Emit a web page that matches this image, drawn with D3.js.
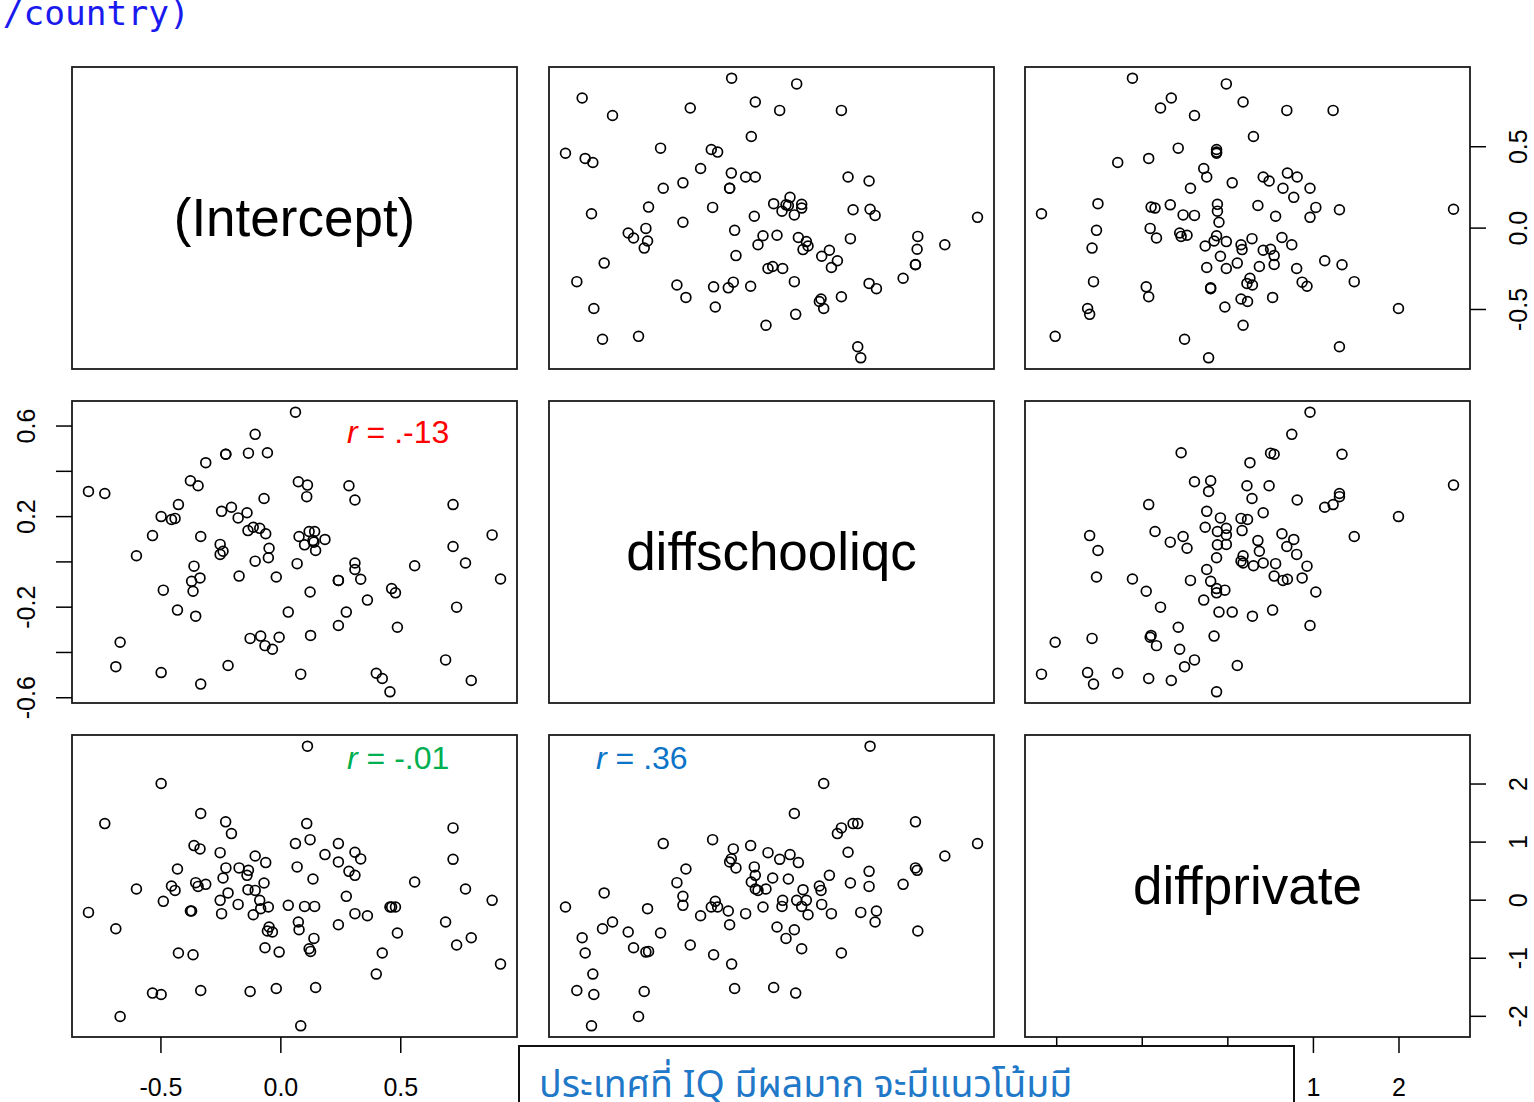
<!DOCTYPE html>
<html>
<head>
<meta charset="utf-8">
<script src="https://cdn.jsdelivr.net/npm/d3@7"></script>
<style>
  body { margin: 0; background: #fff; }
  svg { display: block; }
</style>
</head>
<body>
<div id="chart"></div>
<script>
// variables of the pairs plot
const varNames = ["(Intercept)", "diffschooliqc", "diffprivate"];

const intercept = [
  -0.800, -0.732, -0.686, -0.668, -0.600, -0.533, -0.497, -0.497, -0.488, -0.454,
  -0.439, -0.429, -0.425, -0.375, -0.370, -0.364, -0.360, -0.353, -0.343, -0.335,
  -0.332, -0.332, -0.311, -0.251, -0.251, -0.245, -0.239, -0.228, -0.227, -0.218,
  -0.204, -0.176, -0.172, -0.139, -0.135, -0.133, -0.126, -0.113, -0.105, -0.105,
  -0.086, -0.082, -0.068, -0.064, -0.061, -0.054, -0.050, -0.047, -0.033, -0.017,
  -0.005, 0.033, 0.063, 0.070, 0.075, 0.078, 0.085, 0.101, 0.110, 0.113,
  0.120, 0.124, 0.126, 0.136, 0.140, 0.143, 0.147, 0.186, 0.242, 0.242,
  0.242, 0.275, 0.286, 0.311, 0.311, 0.311, 0.335, 0.363, 0.400, 0.425,
  0.457, 0.464, 0.480, 0.488, 0.560, 0.689, 0.720, 0.720, 0.735, 0.772,
  0.796, 0.883, 0.918
];

const diffschooliqc = [
  0.309, 0.300, -0.465, -0.357, 0.025, 0.114, 0.198, -0.491, -0.127, 0.185,
  0.190, -0.215, 0.251, 0.356, -0.088, -0.132, -0.021, -0.242, 0.334, -0.073,
  0.110, -0.542, 0.436, 0.075, 0.031, 0.221, 0.045, 0.473, 0.473, -0.460,
  0.239, 0.192, -0.065, 0.215, 0.136, 0.478, -0.340, 0.151, 0.561, 0.001,
  0.146, -0.330, 0.278, -0.372, 0.122, 0.480, 0.016, 0.058, -0.388, -0.069,
  -0.335, -0.224, 0.659, -0.010, 0.352, 0.110, -0.498, 0.073, 0.286, 0.337,
  0.132, -0.135, -0.327, 0.092, 0.085, 0.132, 0.048, 0.097, -0.084, -0.084,
  -0.283, -0.224, 0.334, 0.271, -0.007, -0.036, -0.079, -0.171, -0.494, -0.517,
  -0.576, -0.120, -0.139, -0.291, -0.019, -0.435, 0.251, 0.066, -0.202, -0.007,
  -0.526, 0.117, -0.078
];

const diffprivate = [
  -0.219, 1.310, -0.500, -2.012, 0.184, -1.609, 2.000, -1.633, -0.029, 0.236,
  0.160, 0.529, -0.919, -0.195, -0.195, -0.948, 0.931, 0.293, 0.229, 0.874,
  1.483, -1.564, 0.264, -0.012, 0.810, -0.241, 0.374, 1.340, 0.547, 0.116,
  1.138, -0.081, 0.547, 0.419, 0.172, 0.505, -1.581, -0.259, 0.753, 0.160,
  -0.012, -0.155, 0.288, -0.828, 0.638, -0.540, -0.126, -0.471, -0.557, -1.529,
  -0.902, -0.098, 0.966, 0.564, -0.384, -0.517, -2.172, -0.116, 1.310, 2.643,
  -0.845, 1.034, -0.891, 0.357, -0.667, -0.116, -1.512, 0.776, -0.431, 0.650,
  0.966, 0.057, 0.488, 0.816, 0.419, -0.241, 0.702, -0.276, -1.281, -0.919,
  -0.126, -0.126, -0.126, -0.574, 0.305, -0.384, 1.236, 0.695, -0.781, 0.184,
  -0.655, -0.012, -1.109
];

// axis ticks
const interceptTicks = [-0.5, 0, 0.5];
const iqcTicks = [-0.6, -0.4, -0.2, 0, 0.2, 0.4, 0.6];
const iqcTopLabels = ["-0.6", "", "-0.2", "0.0", "0.2", "0.4", "0.6"];
const iqcLeftLabels = ["-0.6", "", "-0.2", "", "0.2", "", "0.6"];
const privateTicks = [-2, -1, 0, 1, 2];
// bottom labels -2, -1, 0 sit under the note box
const privateBottomLabels = ["", "", "", "1", "2"];

// correlation notes
const notes = [
  {row: 1, col: 0, label: " = .-13", color: "#ff0000"},
  {row: 2, col: 0, label: " = -.01", color: "#00b050"},
  {row: 2, col: 1, label: " = .36", color: "#0a74c8"}
];

const width = 1534, height = 1102;
const colX = [72, 549, 1025], rowY = [67, 401, 735];
const pw = 445, ph = 302;
const font = "'Liberation Sans', Arial, sans-serif";

const svg = d3.select("#chart").append("svg")
  .attr("width", width).attr("height", height);

const data = [intercept, diffschooliqc, diffprivate];

// R style range: data extent padded 4% each side
function padded(v) {
  const [a, b] = d3.extent(v);
  const p = (b - a) * 0.04;
  return [a - p, b + p];
}

const xScales = data.map((v, k) => d3.scaleLinear().domain(padded(v)).range([colX[k], colX[k] + pw]));
const yScales = data.map((v, k) => d3.scaleLinear().domain(padded(v)).range([rowY[k] + ph, rowY[k]]));

for (let i = 0; i < 3; i++) {
  for (let j = 0; j < 3; j++) {
    const g = svg.append("g");
    if (i === j) {
      g.append("text")
        .attr("x", colX[j] + pw / 2)
        .attr("y", rowY[i] + ph / 2 + 18)
        .attr("text-anchor", "middle")
        .attr("font-family", font)
        .attr("font-size", 53)
        .text(varNames[i]);
    } else {
      g.selectAll("circle")
        .data(d3.range(intercept.length))
        .enter()
        .append("circle")
        .attr("cx", d => xScales[j](data[j][d]))
        .attr("cy", d => yScales[i](data[i][d]))
        .attr("r", 4.9)
        .attr("fill", "none")
        .attr("stroke", "#000")
        .attr("stroke-width", 1.7);
    }
    g.append("rect")
      .attr("x", colX[j]).attr("y", rowY[i])
      .attr("width", pw).attr("height", ph)
      .attr("fill", "none")
      .attr("stroke", "#1a1a1a")
      .attr("stroke-width", 1.8);
  }
}

function styleAxis(sel) {
  sel.attr("font-family", font).attr("font-size", 25);
  sel.select(".domain").remove();
  sel.selectAll(".tick line").attr("stroke-width", 1.5);
}

// top axis over column 2, first label is cut at the left
svg.append("clipPath").attr("id", "topclip")
  .append("rect").attr("x", 550).attr("y", 0).attr("width", 984).attr("height", 67);

svg.append("g")
  .attr("transform", `translate(0,${rowY[0]})`)
  .call(d3.axisTop(xScales[1]).tickValues(iqcTicks)
    .tickFormat((d, i) => iqcTopLabels[i]).tickSize(16).tickPadding(22))
  .call(styleAxis)
  .attr("clip-path", "url(#topclip)");

// left axis on row 2
svg.append("g")
  .attr("transform", `translate(${colX[0]},0)`)
  .call(d3.axisLeft(yScales[1]).tickValues(iqcTicks)
    .tickFormat((d, i) => iqcLeftLabels[i]).tickSize(16))
  .call(styleAxis)
  .call(g => g.selectAll(".tick text")
    .attr("x", 0).attr("dy", null).attr("y", -37)
    .attr("text-anchor", "middle")
    .attr("transform", "rotate(-90)"));

// right axes on rows 1 and 3
[[0, interceptTicks, d => d.toFixed(1)], [2, privateTicks, d => String(d)]].forEach(([k, ticks, fmt]) => {
  svg.append("g")
    .attr("transform", `translate(${colX[2] + pw},0)`)
    .call(d3.axisRight(yScales[k]).tickValues(ticks).tickFormat(fmt).tickSize(16))
    .call(styleAxis)
    .call(g => g.selectAll(".tick text")
      .attr("x", 0).attr("dy", null).attr("y", 57)
      .attr("text-anchor", "middle")
      .attr("transform", "rotate(-90)"));
});

// bottom axes on columns 1 and 3
[[0, interceptTicks, d => d.toFixed(1)], [2, privateTicks, (d, i) => privateBottomLabels[i]]].forEach(([k, ticks, fmt]) => {
  svg.append("g")
    .attr("transform", `translate(0,${rowY[2] + ph})`)
    .call(d3.axisBottom(xScales[k]).tickValues(ticks).tickFormat(fmt).tickSize(16).tickPadding(25))
    .call(styleAxis);
});

// correlation notes
notes.forEach(n => {
  const t = svg.append("text")
    .attr("x", n.col === 0 ? colX[0] + 275 : colX[1] + 47)
    .attr("y", n.row === 1 ? rowY[1] + 42 : rowY[2] + 34)
    .attr("font-family", font)
    .attr("font-size", 32)
    .attr("fill", n.color);
  t.append("tspan").attr("font-style", "italic").text("r");
  t.append("tspan").text(n.label);
});

// cut off code text at top left
svg.append("text")
  .attr("x", -18).attr("y", 25)
  .attr("font-family", "'DejaVu Sans Mono', monospace")
  .attr("font-size", 34.5)
  .attr("fill", "#1a1aee")
  .text("l/country)");

// overlaid note box at the bottom
svg.append("rect")
  .attr("x", 519).attr("y", 1046)
  .attr("width", 775).attr("height", 80)
  .attr("fill", "#fff")
  .attr("stroke", "#111")
  .attr("stroke-width", 2);

svg.append("text")
  .attr("x", 539).attr("y", 1097)
  .attr("font-family", "'Noto Sans Thai', Tahoma, sans-serif")
  .attr("font-size", 37.5)
  .attr("fill", "#1f78c8")
  .text("ประเทศที่ IQ มีผลมาก จะมีแนวโน้มมี");
</script>
</body>
</html>
